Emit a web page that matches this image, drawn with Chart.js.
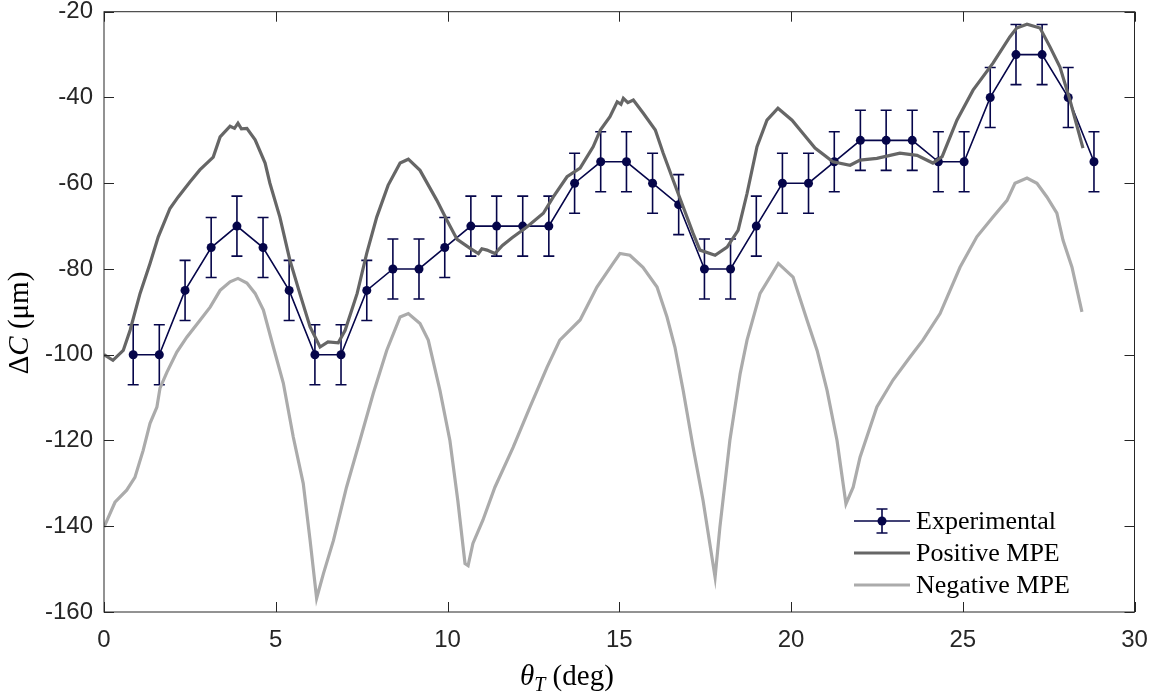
<!DOCTYPE html>
<html>
<head>
<meta charset="utf-8">
<script src="https://cdn.jsdelivr.net/npm/chart.js@4.4.0/dist/chart.umd.min.js"></script>
<style>
  html, body { margin: 0; padding: 0; background: #fff; }
  canvas { display: block; }
</style>
</head>
<body>
<canvas id="mpe-chart" width="1150" height="697"></canvas>
<script>
// experimental points with +/- error
const expX = [0.85, 1.61, 2.36, 3.12, 3.87, 4.63, 5.39, 6.14, 6.90, 7.65,
  8.41, 9.17, 9.92, 10.68, 11.43, 12.19, 12.95, 13.70, 14.46, 15.21,
  15.97, 16.73, 17.48, 18.24, 18.99, 19.75, 20.51, 21.26, 22.02, 22.77,
  23.53, 24.29, 25.04, 25.80, 26.55, 27.31, 28.07, 28.82];
const expY = [-100, -100, -85, -75, -70, -75, -85, -100, -100, -85,
  -80, -80, -75, -70, -70, -70, -70, -60, -55, -55,
  -60, -65, -80, -80, -70, -60, -60, -55, -50, -50,
  -50, -55, -55, -40, -30, -30, -40, -55];
const expErr = [7, 7, 7, 7, 7, 7, 7, 7, 7, 7,
  7, 7, 7, 7, 7, 7, 7, 7, 7, 7,
  7, 7, 7, 7, 7, 7, 7, 7, 7, 7,
  7, 7, 7, 7, 7, 7, 7, 7];

// positive MPE curve
const posX = [0, 0.26, 0.56, 0.76, 1.05, 1.34, 1.58, 1.92, 2.16, 2.5,
  2.79, 3.18, 3.38, 3.67, 3.8, 3.9, 4.0, 4.16, 4.4, 4.69,
  4.83, 5.12, 5.41, 5.7, 6.0, 6.29, 6.52, 6.82, 7.02, 7.37,
  7.65, 7.94, 8.27, 8.62, 8.86, 9.2, 9.69, 9.98, 10.28, 10.66,
  10.9, 11.0, 11.15, 11.38, 11.6, 11.88, 12.31, 12.79, 13.08, 13.48,
  13.86, 14.24, 14.45, 14.73, 14.94, 15.05, 15.12, 15.25, 15.41, 15.7,
  16.05, 16.28, 16.57, 16.86, 17.15, 17.35, 17.79, 18.14, 18.46, 18.72,
  19.01, 19.3, 19.62, 20.03, 20.35, 20.7, 21.22, 21.72, 22.01, 22.5,
  23.17, 23.67, 24.13, 24.4, 24.83, 25.3, 25.88, 26.37, 26.57, 26.87,
  27.25, 27.54, 27.83, 28.12, 28.5];
const posY = [-100, -101.3, -99, -94.3, -85.7, -78.7, -72.5, -65.9, -63.2, -59.7,
  -56.9, -53.9, -49.2, -46.7, -47.2, -46, -47.3, -47.2, -49.9, -55.3,
  -60, -67.9, -77.9, -85.7, -93.5, -98.2, -97, -97.2, -94.3, -85.7,
  -76.3, -67.9, -60.5, -55.3, -54.4, -57, -64, -68.6, -73.1, -75.2,
  -76.4, -75.3, -75.6, -76.4, -74.5, -72.7, -70.2, -67, -63.2, -58.5,
  -56.5, -51.5, -47.6, -44.5, -41, -41.6, -40.2, -41.2, -40.6, -43.7,
  -47.6, -53, -59.3, -65.5, -71.7, -75.6, -76.8, -74.9, -71, -62.4,
  -51.5, -45.3, -42.5, -45.3, -48.4, -51.8, -55, -55.8, -54.6, -54.2,
  -53, -53.5, -55.3, -53.8, -45.3, -38.3, -32, -25.9, -23.8, -22.9,
  -23.8, -28.2, -32.9, -40.6, -51.8];

// negative MPE curve
const negX = [0, 0.32, 0.66, 0.9, 1.14, 1.34, 1.54, 1.63, 1.83, 2.12,
  2.41, 2.79, 3.09, 3.38, 3.67, 3.9, 4.16, 4.4, 4.64, 4.93,
  5.22, 5.51, 5.8, 6.0, 6.19, 6.39, 6.68, 7.06, 7.45, 7.84,
  8.23, 8.62, 8.86, 9.2, 9.44, 9.78, 10.07, 10.3, 10.51, 10.6,
  10.74, 11.03, 11.38, 11.91, 12.4, 12.9, 13.27, 13.86, 14.35, 14.82,
  15.02, 15.31, 15.69, 16.1, 16.39, 16.62, 16.86, 17.15, 17.44, 17.79,
  17.93, 18.22, 18.52, 18.72, 19.1, 19.63, 20.06, 20.47, 20.76, 21.05,
  21.34, 21.6, 21.81, 22.01, 22.5, 22.97, 23.46, 23.84, 24.34, 24.92,
  25.41, 25.88, 26.29, 26.52, 26.87, 27.16, 27.45, 27.74, 27.92, 28.18,
  28.47];
const negY = [-140.2, -134.4, -131.6, -128.6, -122.3, -116, -112.2, -107.8, -104.1, -99.4,
  -95.9, -92, -88.9, -85, -83, -82.2, -83.3, -85.7, -89.6, -98.2,
  -106.6, -119.2, -130, -143.3, -156.8, -151, -143.3, -130.9, -120, -109,
  -99, -91.2, -90.4, -92.7, -96.6, -108.3, -120, -134, -148.7, -149.2,
  -144, -138.6, -130.9, -121.6, -112.2, -102.9, -96.6, -91.9, -84.2, -78.7,
  -76.4, -76.8, -79.6, -84.2, -91.2, -98.2, -108.3, -121.6, -134, -151.9,
  -140.2, -120, -104.4, -96.6, -85.7, -78.7, -81.9, -92, -99, -108.3,
  -120, -134.8, -130.9, -123.9, -112.2, -105.9, -100.6, -96.6, -90.4, -79.6,
  -72.5, -67.9, -64, -60, -58.8, -60, -63.2, -67, -73.3, -79.6,
  -90];

const seriesNames = ['Experimental', 'Positive MPE', 'Negative MPE'];

const NAVY = '#06064a';
const DARK = '#666666';
const LIGHT = '#ababab';
const AXIS = '#262626';
const SERIF = '"Liberation Serif", "Times New Roman", serif';

const toPoints = (xs, ys) => xs.map((x, i) => ({ x: x, y: ys[i] }));

// no label overhang padding, the plot box is fixed like the matlab figure
const fixSize = (s, w, h) => {
  if (w) s.width = w;
  if (h) s.height = h;
  s.paddingLeft = s.paddingRight = s.paddingTop = s.paddingBottom = 0;
};

// error bars drawn right after the experimental line, so the MPE curves sit on top
const errorBars = {
  id: 'errorBars',
  afterDatasetDraw(chart, args) {
    if (args.index !== 0) return;
    const { ctx, scales: { x, y } } = chart;
    ctx.save();
    ctx.strokeStyle = NAVY;
    ctx.lineWidth = 1.6;
    expX.forEach((v, i) => {
      const px = x.getPixelForValue(v);
      const top = y.getPixelForValue(expY[i] + expErr[i]);
      const bot = y.getPixelForValue(expY[i] - expErr[i]);
      ctx.beginPath();
      ctx.moveTo(px, top); ctx.lineTo(px, bot);
      ctx.moveTo(px - 5.5, top); ctx.lineTo(px + 5.5, top);
      ctx.moveTo(px - 5.5, bot); ctx.lineTo(px + 5.5, bot);
      ctx.stroke();
    });
    ctx.restore();
  }
};

// matlab style box with inward ticks, axis titles and legend
const frame = {
  id: 'frame',
  afterDraw(chart) {
    const { ctx, chartArea: a, scales: { x, y } } = chart;
    ctx.save();
    ctx.strokeStyle = AXIS;
    ctx.lineWidth = 1;
    ctx.strokeRect(a.left, a.top, a.right - a.left, a.bottom - a.top);
    ctx.beginPath();
    x.ticks.forEach(t => {
      const px = Math.round(x.getPixelForValue(t.value)) + 0.5;
      ctx.moveTo(px, a.bottom); ctx.lineTo(px, a.bottom - 10);
      ctx.moveTo(px, a.top); ctx.lineTo(px, a.top + 10);
    });
    y.ticks.forEach(t => {
      const py = Math.round(y.getPixelForValue(t.value)) + 0.5;
      ctx.moveTo(a.left, py); ctx.lineTo(a.left + 10, py);
      ctx.moveTo(a.right, py); ctx.lineTo(a.right - 10, py);
    });
    ctx.stroke();

    // x title: theta_T (deg)
    ctx.fillStyle = '#000';
    ctx.textBaseline = 'alphabetic';
    ctx.textAlign = 'left';
    let tx = 520;
    const ty = 685;
    ctx.font = 'italic 29px ' + SERIF;
    ctx.fillText('θ', tx, ty);
    tx += ctx.measureText('θ').width;
    ctx.font = 'italic 20px ' + SERIF;
    ctx.fillText('T', tx, ty + 6);
    tx += ctx.measureText('T').width;
    ctx.font = '29px ' + SERIF;
    ctx.fillText(' (deg)', tx, ty);

    // y title: Delta C (um)
    ctx.save();
    ctx.translate(28, 323);
    ctx.rotate(-Math.PI / 2);
    const parts = [['Δ', '29px '], ['C', 'italic 29px '], [' (μm)', '29px ']];
    let w = 0;
    parts.forEach(p => { ctx.font = p[1] + SERIF; w += ctx.measureText(p[0]).width; });
    let sx = -w / 2;
    parts.forEach(p => {
      ctx.font = p[1] + SERIF;
      ctx.fillText(p[0], sx, 0);
      sx += ctx.measureText(p[0]).width;
    });
    ctx.restore();

    // legend
    const lx0 = 854, lx1 = 910, rows = [521, 553, 585];
    ctx.lineWidth = 1.6;
    ctx.strokeStyle = NAVY;
    ctx.beginPath();
    ctx.moveTo(lx0, rows[0]); ctx.lineTo(lx1, rows[0]);
    ctx.moveTo(882, rows[0] - 12); ctx.lineTo(882, rows[0] + 12);
    ctx.moveTo(876.5, rows[0] - 12); ctx.lineTo(887.5, rows[0] - 12);
    ctx.moveTo(876.5, rows[0] + 12); ctx.lineTo(887.5, rows[0] + 12);
    ctx.stroke();
    ctx.fillStyle = NAVY;
    ctx.beginPath();
    ctx.arc(882, rows[0], 4.5, 0, Math.PI * 2);
    ctx.fill();
    ctx.lineWidth = 3.2;
    [DARK, LIGHT].forEach((c, i) => {
      ctx.strokeStyle = c;
      ctx.beginPath();
      ctx.moveTo(lx0, rows[i + 1]); ctx.lineTo(lx1, rows[i + 1]);
      ctx.stroke();
    });
    ctx.fillStyle = '#000';
    ctx.font = '26px ' + SERIF;
    ctx.textBaseline = 'middle';
    seriesNames.forEach((n, i) => ctx.fillText(n, 916, rows[i] + 1));
    ctx.restore();
  }
};

const tickFont = { family: '"Liberation Sans", Arial, sans-serif', size: 24 };

new Chart(document.getElementById('mpe-chart'), {
  type: 'line',
  data: {
    datasets: [
      {
        label: seriesNames[0],
        data: toPoints(expX, expY),
        borderColor: NAVY,
        backgroundColor: NAVY,
        borderWidth: 1.6,
        pointRadius: 4.5,
        pointBorderWidth: 0,
        tension: 0,
        order: 3
      },
      {
        label: seriesNames[1],
        data: toPoints(posX, posY),
        borderColor: DARK,
        borderWidth: 3.2,
        pointRadius: 0,
        tension: 0,
        order: 2
      },
      {
        label: seriesNames[2],
        data: toPoints(negX, negY),
        borderColor: LIGHT,
        borderWidth: 3.2,
        pointRadius: 0,
        tension: 0,
        order: 1
      }
    ]
  },
  options: {
    responsive: false,
    animation: false,
    layout: { autoPadding: false, padding: { left: 0, right: 15.5, top: 11.7, bottom: 0 } },
    plugins: {
      legend: { display: false },
      tooltip: { enabled: false }
    },
    scales: {
      x: {
        type: 'linear',
        min: 0,
        max: 30,
        afterFit: s => fixSize(s, 0, 85),
        grid: { display: false, drawTicks: false },
        border: { display: false },
        ticks: { stepSize: 5, font: tickFont, color: AXIS, padding: 14, maxRotation: 0 }
      },
      y: {
        min: -160,
        max: -20,
        afterFit: s => fixSize(s, 104, 0),
        grid: { display: false, drawTicks: false },
        border: { display: false },
        ticks: { stepSize: 20, font: tickFont, color: AXIS, padding: 11 }
      }
    }
  },
  plugins: [errorBars, frame]
});
</script>
</body>
</html>
